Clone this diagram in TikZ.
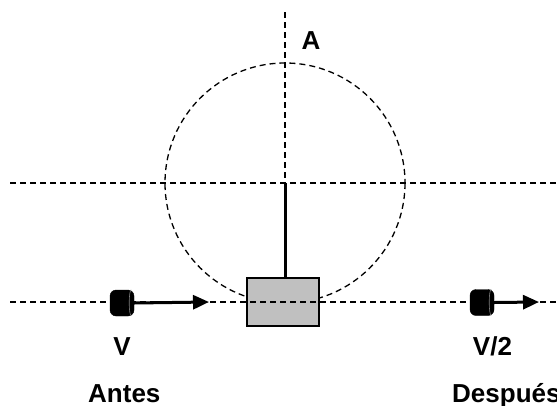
\documentclass[tikz,border=0pt]{standalone}
\usepackage{fontspec}
\setmainfont{Liberation Sans}
\usetikzlibrary{arrows.meta}
\begin{document}
\begin{tikzpicture}[x=1pt,y=-1pt,
  guide/.style={draw=black,line width=1.3pt,dash pattern=on 6pt off 4pt},
  label/.style={font=\bfseries\fontsize{26}{28}\selectfont,inner sep=0pt},
  pellet/.style={fill=black,draw=black,rounded corners=6pt,minimum width=24pt,minimum height=26pt,inner sep=0pt},
  velocity/.style={line width=3pt,-{Triangle[length=16pt,width=14pt]}},
  blockbox/.style={draw=black,line width=1.8pt,fill={rgb,255:red,192;green,192;blue,192},minimum width=72pt,minimum height=48pt,inner sep=0pt}]
\useasboundingbox (0,0) rectangle (557,405);

% pivot and swing circle
\coordinate (O) at (285,183);
\coordinate (top) at (285,12);
\draw[guide] (O) circle[radius=120];
\coordinate (hl) at (10,183);
\coordinate (hr) at (557,183);
\draw[guide] (hl) -- (hr);
\draw[guide] (top) -- (O);

% track of the bullet
\coordinate (tl) at (10,302);
\coordinate (tr) at (557,302);

% block
\node[blockbox] (block) at (283,302) {};
\draw[guide] (tl) -- (tr);
\draw[line width=3pt] (O) -- (block.north -| O);

% bullet before
\node[pellet] (b1) at (122,303) {};
\draw[gray,line width=0.6pt] ([xshift=-3pt]b1.north east) arc[start angle=90,end angle=270,x radius=2pt,y radius=13pt];
\coordinate (v1) at (209,302);
\draw[velocity] (b1.east) -- (v1);

% bullet after
\node[pellet] (b2) at (482,302.5) {};
\draw[gray,line width=0.6pt] ([xshift=-3pt]b2.north east) arc[start angle=90,end angle=270,x radius=2pt,y radius=13pt];
\coordinate (v2) at (539,302);
\draw[velocity] (b2.east) -- (v2);

% labels
\node[label] (A) at (311,41) {A};
\node[label] (V) at (122,346.5) {V};
\node[label] (V2) at (492.5,346.5) {V/2};
\node[label,anchor=base west] (antes) at (88,402) {Antes};
\node[label,anchor=base west] (despues) at (452,402) {Después};
\end{tikzpicture}
\end{document}
